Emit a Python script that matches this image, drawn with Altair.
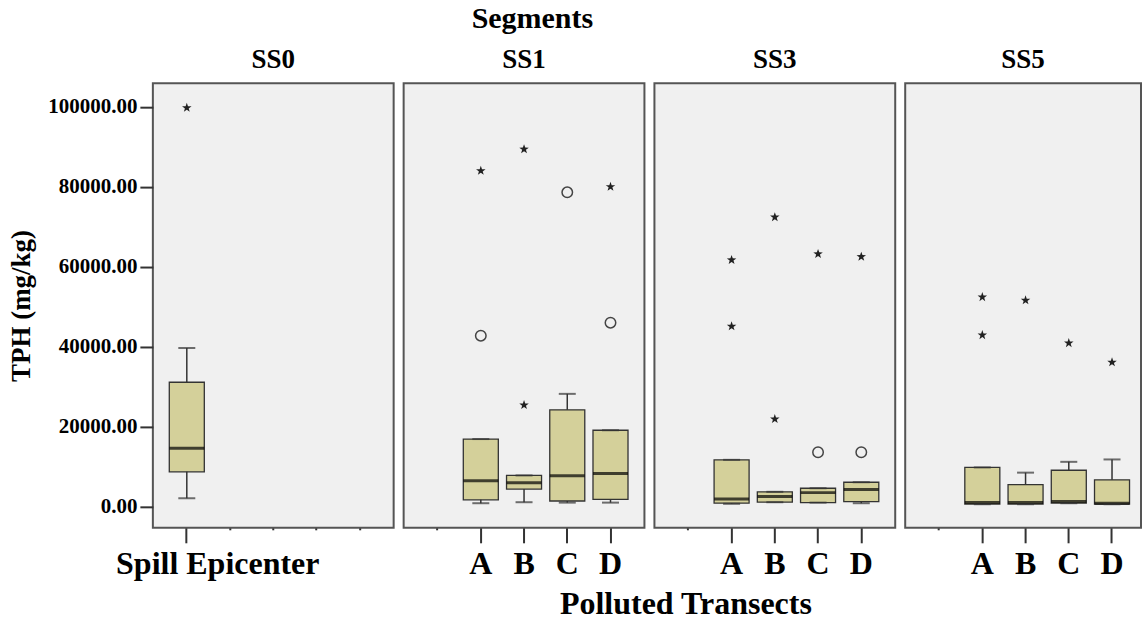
import altair as alt
import pandas as pd

# Box summaries per segment / transect (TPH, mg/kg)
segment = ["SS0", "SS1", "SS1", "SS1", "SS1", "SS3", "SS3", "SS3", "SS3", "SS5", "SS5", "SS5", "SS5"]
transect = ["Spill Epicenter", "A", "B", "C", "D", "A", "B", "C", "D", "A", "B", "C", "D"]
whisker_low = [2100, 850, 1100, 1000, 1000, 700, 1100, 1000, 850, 600, 600, 850, 600]
q1 = [8700, 1700, 4400, 1400, 1800, 850, 1100, 1000, 1250, 600, 600, 850, 600]
median = [14600, 6500, 6000, 7700, 8300, 1900, 2500, 3500, 4300, 1000, 1000, 1250, 850]
q3 = [31100, 16900, 7800, 24200, 19100, 11700, 3700, 4600, 6100, 9800, 5500, 9100, 6700]
whisker_high = [39700, 16900, 7800, 28200, 19100, 11700, 3700, 4600, 6100, 9800, 8500, 11200, 11800]

# Outliers (circle) and extreme values (star)
out_segment = ["SS0", "SS1", "SS1", "SS1", "SS1", "SS1", "SS1", "SS1",
               "SS3", "SS3", "SS3", "SS3", "SS3", "SS3", "SS3", "SS3",
               "SS5", "SS5", "SS5", "SS5", "SS5"]
out_transect = ["Spill Epicenter", "A", "A", "B", "B", "C", "D", "D",
                "A", "A", "B", "B", "C", "C", "D", "D",
                "A", "A", "B", "C", "D"]
out_value = [99750, 84000, 42750, 89400, 25400, 78600, 80000, 46000,
             61700, 45100, 72400, 21900, 63200, 13600, 62500, 13600,
             52400, 42900, 51600, 40900, 36100]
out_kind = ["star", "star", "circle", "star", "star", "circle", "star", "circle",
            "star", "star", "star", "star", "star", "circle", "star", "circle",
            "star", "star", "star", "star", "star"]

categories = ["Spill Epicenter", "A", "B", "C", "D"]
y_ticks = [0, 20000, 40000, 60000, 80000, 100000]

boxes = pd.DataFrame({
    "segment": segment, "transect": transect, "whisker_low": whisker_low,
    "q1": q1, "median": median, "q3": q3, "whisker_high": whisker_high,
})
outliers = pd.DataFrame({
    "segment": out_segment, "transect": out_transect,
    "value": out_value, "kind": out_kind,
})

SERIF = "Liberation Serif"
BOX_FILL = "#d4d09a"
STAR = ("M0,-1 L0.235,-0.324 L0.951,-0.309 L0.380,0.124 L0.588,0.809 "
        "L0,0.4 L-0.588,0.809 L-0.380,0.124 L-0.951,-0.309 L-0.235,-0.324 Z")

y_scale = alt.Scale(domain=[-5300, 105900], nice=False, zero=False)

AXIS_STYLE = dict(
    labelFont=SERIF, labelFontWeight="bold", labelColor="black",
    titleFont=SERIF, titleFontWeight="bold", titleColor="black",
    tickColor="#333333", tickWidth=2, domain=False, grid=False,
)


def panel(seg, width, present, show_y=False, x_title=None, x_scale_extra=None,
          label_offset=0):
    cond = "indexof(" + str(present) + ", datum.value) >= 0"
    axis_kw = dict(
        labelExpr=cond + " ? datum.value : ''",
        tickSize={"condition": {"test": cond, "value": 15}, "value": 2},
        labelFontSize=32, labelPadding=6, labelLimit=0, labelAngle=0,
        labelBaseline="top", labelOffset=label_offset, **AXIS_STYLE,
    )
    if x_title:
        axis_kw.update(title=x_title, titleFontSize=32, titleX=31, titleY=86,
                       titleBaseline="alphabetic")
    scale_kw = dict(domain=categories, paddingInner=0.19, paddingOuter=0.38)
    if x_scale_extra:
        scale_kw.update(x_scale_extra)
    x = alt.X("transect:N", scale=alt.Scale(**scale_kw), axis=alt.Axis(**axis_kw),
              title=x_title if x_title else None)

    if show_y:
        y_axis = alt.Axis(values=y_ticks, format=".2f", tickSize=13, labelPadding=3,
                          labelFontSize=21, title="TPH (mg/kg)", titleFontSize=27,
                          titlePadding=12, **AXIS_STYLE)
    else:
        y_axis = None

    base = alt.Chart(boxes).transform_filter(alt.datum.segment == seg)
    outs = alt.Chart(outliers).transform_filter(alt.datum.segment == seg)

    whisk = base.mark_rule(color="#333333", strokeWidth=1.5).encode(
        x=x, y=alt.Y("whisker_low:Q", scale=y_scale, axis=y_axis), y2="whisker_high:Q")
    box = base.mark_bar(fill=BOX_FILL, stroke="#333333", strokeWidth=1.3).encode(
        x=x, y=alt.Y("q1:Q", scale=y_scale, axis=y_axis), y2="q3:Q")
    med = base.mark_tick(color="#000000", thickness=3, size=35).encode(
        x=x, y=alt.Y("median:Q", scale=y_scale, axis=y_axis))
    cap_lo = base.mark_tick(color="#333333", thickness=2, size=17).encode(
        x=x, y=alt.Y("whisker_low:Q", scale=y_scale, axis=y_axis))
    cap_hi = base.mark_tick(color="#333333", thickness=2, size=17).encode(
        x=x, y=alt.Y("whisker_high:Q", scale=y_scale, axis=y_axis))
    stars = outs.transform_filter(alt.datum.kind == "star").mark_point(
        shape=STAR, filled=True, color="#222222", size=100, opacity=1).encode(
        x=x, y=alt.Y("value:Q", scale=y_scale, axis=y_axis))
    circles = outs.transform_filter(alt.datum.kind == "circle").mark_point(
        shape="circle", filled=False, color="#444444", strokeWidth=1.5, size=110,
        opacity=1).encode(x=x, y=alt.Y("value:Q", scale=y_scale, axis=y_axis))

    return alt.layer(whisk, box, med, cap_lo, cap_hi, circles, stars).properties(
        width=width, height=445,
        title=alt.TitleParams(seg, fontSize=27, font=SERIF, fontWeight="bold",
                              offset=9, color="black"),
    )


transects = ["A", "B", "C", "D"]
p0 = panel("SS0", 241, ["Spill Epicenter"], show_y=True, label_offset=31)
p1 = panel("SS1", 241, transects)
p3 = panel("SS3", 241, transects, x_title="Polluted Transects")
p5 = panel("SS5", 236, transects, x_scale_extra={"paddingOuter": 0.322, "align": 0.588})

chart = alt.hconcat(p0, p1, p3, p5, spacing=10, bounds="flush").resolve_scale(
    x="independent", y="independent"
).properties(
    title=alt.TitleParams("Segments", fontSize=30, font=SERIF, fontWeight="bold",
                          anchor="middle", color="black", offset=11, dx=-42),
    padding={"left": 6, "top": 4, "right": 0, "bottom": 0},
    background="white",
).configure_view(
    fill="#f0f0f0", stroke="#555555", strokeWidth=2
).configure_axis(**AXIS_STYLE)

chart.save("out.html", embed_options={"renderer": "svg", "actions": False})
